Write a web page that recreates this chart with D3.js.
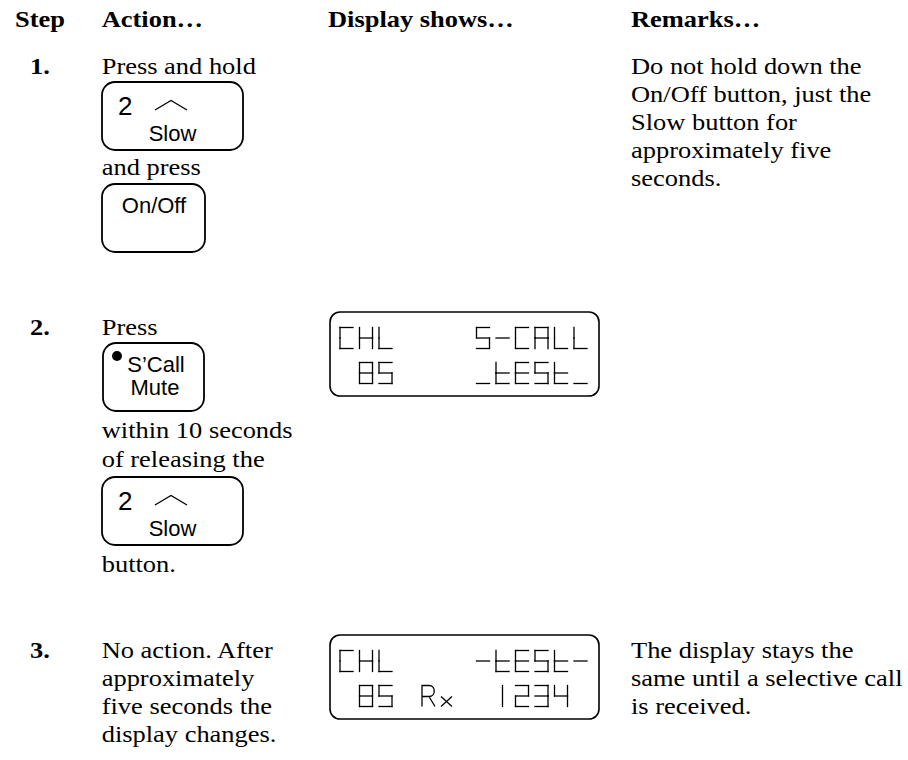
<!DOCTYPE html>
<html><head><meta charset="utf-8">
<script src="https://cdn.jsdelivr.net/npm/d3@7"></script>
<style>
html,body{margin:0;padding:0;background:#fff}
svg{display:block}
</style></head><body>
<script>
// ---------- content ----------
const headers = ["Step", "Action…", "Display shows…", "Remarks…"];
const stepLabels = ["1.", "2.", "3."];
const action1 = ["Press and hold", "and press"];
const action2 = ["Press", "within 10 seconds", "of releasing the", "button."];
const action3 = ["No action. After", "approximately", "five seconds the", "display changes."];
const remarks1 = ["Do not hold down the", "On/Off button, just the", "Slow button for", "approximately five", "seconds."];
const remarks3 = ["The display stays the", "same until a selective call", "is received."];
const slowKeyLabels = ["2", "Slow"];
const onOffKeyLabels = ["On/Off"];
const scallKeyLabels = ["S’Call", "Mute"];
// LCD rows, one character per cell ("R" = the "Rx" annunciator)
const lcdStep2 = ["CHL    5-CALL", " 85    _tESt_"];
const lcdStep3 = ["CHL    -tESt-", " 85 R   1234 "];

// ---------- drawing ----------
const W = 908, H = 760;
const svg = d3.select("body").append("svg").attr("width", W).attr("height", H);
const SERIF = "'Liberation Serif','Times New Roman',serif";
const SANS = "'Liberation Sans',Arial,sans-serif";
const SX = 1.15;

function txt(x, y, s, o = {}) {
  return svg.append("text")
    .attr("transform", `translate(${x},${y}) scale(${o.sx ?? SX},1)`)
    .attr("font-family", o.family || SERIF)
    .attr("font-size", o.size || 23)
    .attr("font-weight", o.bold ? "bold" : "normal")
    .attr("text-anchor", o.anchor || "start")
    .attr("fill", "#000")
    .text(s);
}
function lines(x, y0, arr, step, o) {
  arr.forEach((s, i) => txt(x, y0 + i * step, s, o));
}

// column positions
const col = d3.scaleOrdinal().domain(headers).range([15, 101.7, 328, 631]);
headers.forEach(h => txt(col(h), 26.7, h, {bold: true}));

// step numbers
const stepY = d3.scaleOrdinal().domain(stepLabels).range([74, 335, 658]);
stepLabels.forEach(s => txt(30, stepY(s), s, {bold: true}));

const AX = col(headers[1]), RX = col(headers[3]);
const LH = 28;

// key (button) drawing
function key(x, y, w, h) {
  svg.append("rect").attr("x", x).attr("y", y).attr("width", w).attr("height", h)
    .attr("rx", 13).attr("ry", 13)
    .attr("fill", "none").attr("stroke", "#000").attr("stroke-width", 1.8);
}
function slowKey(x, y) {
  key(x, y, 141, 68);
  txt(x + 16, y + 33, slowKeyLabels[0], {family: SANS, size: 26, sx: 1});
  svg.append("path")
    .attr("d", d3.line()([[x + 53, y + 28], [x + 69, y + 18.5], [x + 85, y + 28]]))
    .attr("fill", "none").attr("stroke", "#000").attr("stroke-width", 1.3);
  txt(x + 70.5, y + 59, slowKeyLabels[1], {family: SANS, size: 22, sx: 1, anchor: "middle"});
}
function onOffKey(x, y) {
  key(x, y, 103, 68);
  txt(x + 52, y + 29, onOffKeyLabels[0], {family: SANS, size: 22, sx: 1, anchor: "middle"});
}
function scallKey(x, y) {
  key(x, y, 101, 68);
  svg.append("circle").attr("cx", x + 14).attr("cy", y + 13).attr("r", 5).attr("fill", "#000");
  txt(x + 53, y + 29, scallKeyLabels[0], {family: SANS, size: 22, sx: 1, anchor: "middle"});
  txt(x + 52, y + 52, scallKeyLabels[1], {family: SANS, size: 22, sx: 1, anchor: "middle"});
}

// LCD segment glyphs
const SEG = {
  a: [[0, 0], [1, 0]], b: [[1, 0], [1, .5]], c: [[1, .5], [1, 1]], d: [[0, 1], [1, 1]],
  e: [[0, .5], [0, 1]], f: [[0, 0], [0, .5]], g: [[0, .5], [1, .5]], v: [[.5, 0], [.5, 1]]
};
const GLYPH = {
  "C": "afed", "H": "febcg", "L": "fed", "5": "afgcd", "S": "afgcd", "-": "g",
  "A": "afebcg", "8": "abcdefg", "t": "fegd", "E": "afged", "_": "d",
  "1": "v", "2": "abged", "3": "abgcd", "4": "fgbc"
};
const GW = 13, GH = 21;
function lcd(x, y, rows) {
  svg.append("rect").attr("x", x).attr("y", y).attr("width", 269).attr("height", 84)
    .attr("rx", 10).attr("ry", 10)
    .attr("fill", "none").attr("stroke", "#000").attr("stroke-width", 1.6);
  const cx = d3.scaleLinear().domain([0, 13]).range([x + 10, x + 10 + 13 * 19.5]);
  const ry = d3.scaleLinear().domain([0, 1]).range([y + 15.5, y + 50.5]);
  rows.forEach((row, ri) => {
    [...row].forEach((ch, ci) => {
      const gx = cx(ci), gy = ry(ri);
      const gxs = d3.scaleLinear().range([gx, gx + GW]);
      const gys = d3.scaleLinear().range([gy, gy + GH]);
      if (ch === "R") {
        const rx = gx + 4;
        const p = d3.path();
        p.moveTo(rx, gy + GH); p.lineTo(rx, gy); p.lineTo(rx + 7, gy);
        p.bezierCurveTo(rx + 14, gy, rx + 14, gy + 11, rx + 7, gy + 11);
        p.lineTo(rx, gy + 11);
        p.moveTo(rx + 7, gy + 11); p.lineTo(rx + 13, gy + GH);
        p.moveTo(rx + 19, gy + 11); p.lineTo(rx + 30, gy + GH);
        p.moveTo(rx + 30, gy + 11); p.lineTo(rx + 19, gy + GH);
        svg.append("path").attr("d", p.toString())
          .attr("fill", "none").attr("stroke", "#000").attr("stroke-width", 1.3);
        return;
      }
      const segs = GLYPH[ch];
      if (!segs) return;
      const line = d3.line().x(d => gxs(d[0])).y(d => gys(d[1]));
      [...segs].forEach(s => {
        svg.append("path").attr("d", line(SEG[s]))
          .attr("fill", "none").attr("stroke", "#000").attr("stroke-width", 1.3)
          .attr("stroke-linecap", "square");
      });
    });
  });
}

// ---- Step 1 ----
txt(AX, 74, action1[0]);
slowKey(102, 82);
txt(AX, 175, action1[1]);
onOffKey(102, 184);
lines(RX, 74, remarks1, LH);

// ---- Step 2 ----
txt(AX, 335, action2[0]);
scallKey(103, 343);
txt(AX, 438, action2[1]);
txt(AX, 467, action2[2]);
slowKey(102, 477);
txt(AX, 572, action2[3]);
lcd(330, 312, lcdStep2);

// ---- Step 3 ----
lines(AX, 658, action3, LH);
lcd(330, 635, lcdStep3);
lines(RX, 658, remarks3, LH);
</script>
</body></html>
